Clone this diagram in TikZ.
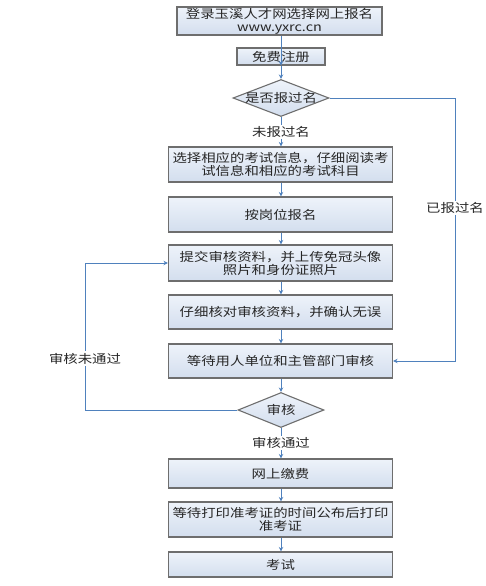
\documentclass[tikz,border=0pt]{standalone}
\usepackage{fontspec}
\setmainfont[FakeStretch=1.2]{Noto Sans CJK SC}
\usetikzlibrary{shapes.geometric,arrows.meta}
\definecolor{linkblue}{HTML}{4F81BD}
\definecolor{boxtop}{HTML}{EEF3FA}
\definecolor{boxbot}{HTML}{D3DEEE}
\definecolor{boxedge}{HTML}{6E6E6E}
\begin{document}
\begin{tikzpicture}[x=1pt,y=-1pt,
  every node/.style={font=\fontsize{12}{13}\selectfont, text=black!85},
  stepbox/.style={rectangle, draw=boxedge, line width=1.1pt, top color=boxtop, bottom color=boxbot, inner sep=0pt, align=center, minimum width=224pt},
  dia/.style={diamond, draw=boxedge, line width=1.1pt, top color=boxtop, bottom color=boxbot, inner sep=0pt},
  link/.style={draw=linkblue, line width=0.8pt, -{Stealth[length=4.5pt,width=4.5pt]}},
  lab/.style={fill=white, inner sep=1.5pt}
]
\useasboundingbox (0,0) rectangle (486,586);

\node[stepbox, minimum width=205pt, minimum height=28pt] (n1) at (279.5,21) {登录玉溪人才网选择网上报名\\www.yxrc.cn};
\node[stepbox, minimum width=88pt, minimum height=17pt] (n2) at (281,56.5) {免费注册};
\node[dia, minimum width=96pt, minimum height=37pt] (d1) at (281,98) {};
\node at (d1) {是否报过名};
\node[stepbox, minimum height=35pt] (n3) at (280.5,164.5) {选择相应的考试信息，仔细阅读考\\试信息和相应的考试科目};
\node[stepbox, minimum height=35pt] (n4) at (280.5,214.5) {按岗位报名};
\node[stepbox, minimum height=36pt] (n5) at (280.5,263) {提交审核资料，并上传免冠头像\\照片和身份证照片};
\node[stepbox, minimum height=34pt] (n6) at (280.5,312) {仔细核对审核资料，并确认无误};
\node[stepbox, minimum height=34pt] (n7) at (280.5,361) {等待用人单位和主管部门审核};
\node[dia, minimum width=86pt, minimum height=35pt] (d2) at (281,410) {};
\node at (d2) {审核};
\node[stepbox, minimum height=29pt] (n8) at (280.5,473.5) {网上缴费};
\node[stepbox, minimum height=35pt] (n9) at (280.5,519.5) {等待打印准考证的时间公布后打印\\准考证};
\node[stepbox, minimum height=25pt] (n10) at (280.5,564.5) {考试};

\coordinate (r1) at (455,98);
\coordinate (r2) at (455,361);
\coordinate (l1) at (85,410);
\coordinate (l2) at (85,263);

\draw[link] (n1.south -| d1.north) -- (n2.south -| d1.north |- n2.north);
\draw[link] (n2) -- (d1);
\draw[link] (d1.south) -- node[lab] {未报过名} (d1.south |- n3.north);
\draw[link] (d1.south |- n3.south) -- (d1.south |- n4.north);
\draw[link] (d1.south |- n4.south) -- (d1.south |- n5.north);
\draw[link] (d1.south |- n5.south) -- (d1.south |- n6.north);
\draw[link] (d1.south |- n6.south) -- (d1.south |- n7.north);
\draw[link] (d1.south |- n7.south) -- (d2.north);
\draw[link] (d2.south) -- node[lab] {审核通过} (d2.south |- n8.north);
\draw[link] (d2.south |- n8.south) -- (d2.south |- n9.north);
\draw[link] (d2.south |- n9.south) -- (d2.south |- n10.north);

\draw[link] (d1.east) -- (r1) -- node[lab, pos=0.4167] {已报过名} (r2) -- (n7.east);
\draw[link] (d2.west) -- (l1) -- node[lab, pos=0.35] {审核未通过} (l2) -- (n5.west);
\end{tikzpicture}
\end{document}
